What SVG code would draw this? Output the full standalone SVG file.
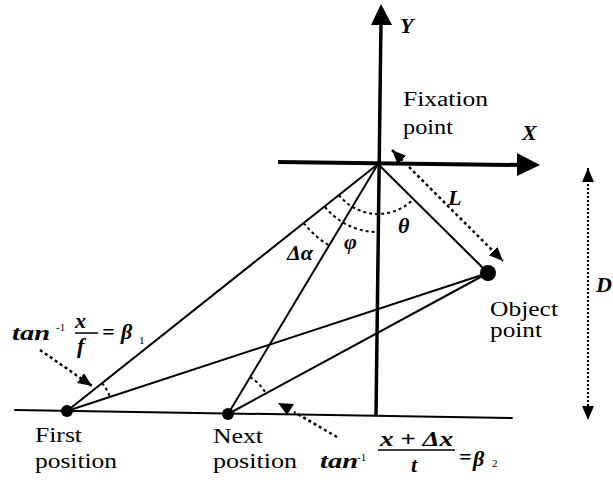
<svg xmlns="http://www.w3.org/2000/svg" width="613" height="485" viewBox="0 0 613 485">
<defs>
<marker id="ah" markerUnits="userSpaceOnUse" markerWidth="16" markerHeight="14" refX="14" refY="6" orient="auto-start-reverse">
<path d="M0,0 L14,6 L0,12 z" fill="#000"/>
</marker>
<style>
.lbl{font-size:20px;fill:#000}
.m{font-size:22px;font-style:italic;font-weight:bold;fill:#000}
.s{font-size:11px;fill:#000}
.ln{stroke:#000;stroke-width:2;fill:none;stroke-linecap:round}
.dash{stroke:#000;stroke-width:2;fill:none;stroke-dasharray:3 3}
.dot{stroke:#000;stroke-width:2.5;fill:none;stroke-dasharray:3 3}
.fine{stroke:#000;stroke-width:2;fill:none;stroke-dasharray:2 2}
</style>
</defs>
<rect width="613" height="485" fill="#fff"/>
<g font-family="Liberation Serif, DejaVu Serif, serif">
<g id="axes">
<line x1="381" y1="20" x2="376" y2="416" stroke="#000" stroke-width="3.5"/>
<polygon points="381,4 392,25 371,25" fill="#000"/>
<line x1="278" y1="162" x2="520" y2="165" stroke="#000" stroke-width="4"/>
<polygon points="540,165 517,153 517,176" fill="#000"/>
<text class="m" x="400" y="33">Y</text>
<text class="m" x="522" y="140">X</text>
</g>

<g id="ground">
<line class="ln" x1="15" y1="410" x2="512" y2="418"/>
</g>

<g id="connectors">
<line class="ln" x1="378" y1="164" x2="67" y2="411"/>
<line class="ln" x1="378" y1="164" x2="228" y2="414"/>
<line class="ln" x1="378" y1="164" x2="488" y2="273"/>
<line class="ln" x1="488" y1="273" x2="67" y2="411"/>
<line class="ln" x1="488" y1="273" x2="228" y2="414"/>
<path class="dash" d="M338.9,195.1 A50,50 0 0 0 413.5,199.2"/>
<path class="dash" d="M325,207 A68,68 0 0 0 377.4,232"/>
<path class="dash" d="M303.7,223.1 A95,95 0 0 0 329.2,245.5"/>
<path class="dash" d="M102,383 A45,45 0 0 1 110,397"/>
<path class="dash" d="M250.1,377.1 A43,43 0 0 1 265.8,393.5"/>
<line class="dot" x1="392" y1="150" x2="503" y2="261" marker-start="url(#ah)" marker-end="url(#ah)"/>
<line class="fine" x1="588" y1="168" x2="588" y2="420" marker-start="url(#ah)" marker-end="url(#ah)"/>
<line class="dot" x1="40" y1="350" x2="92" y2="386" marker-end="url(#ah)"/>
<line class="dot" x1="337" y1="437" x2="294" y2="412"/>
<polygon points="278,403 294,404 287,415" fill="#000"/>
</g>

<g id="fixation-point">
<text class="lbl" x="403" y="106" textLength="85" lengthAdjust="spacingAndGlyphs">Fixation</text>
<text class="lbl" x="403" y="134" textLength="50" lengthAdjust="spacingAndGlyphs">point</text>
</g>

<g id="object-point">
<circle cx="488" cy="273" r="8" fill="#000"/>
<text class="lbl" x="490" y="316" textLength="68" lengthAdjust="spacingAndGlyphs">Object</text>
<text class="lbl" x="490" y="337" textLength="52" lengthAdjust="spacingAndGlyphs">point</text>
</g>

<g id="first-position">
<circle cx="67" cy="411" r="6" fill="#000"/>
<text class="lbl" x="35" y="442" textLength="47" lengthAdjust="spacingAndGlyphs">First</text>
<text class="lbl" x="35" y="468" textLength="82" lengthAdjust="spacingAndGlyphs">position</text>
</g>

<g id="next-position">
<circle cx="228" cy="414" r="6" fill="#000"/>
<text class="lbl" x="213" y="443" textLength="50" lengthAdjust="spacingAndGlyphs">Next</text>
<text class="lbl" x="213" y="468" textLength="84" lengthAdjust="spacingAndGlyphs">position</text>
</g>

<g id="angle-labels">
<text class="m" x="448" y="205">L</text>
<text class="m" x="398" y="233">θ</text>
<text class="m" x="344" y="249">φ</text>
<text class="m" x="287" y="260">Δα</text>
<text class="m" x="596" y="292">D</text>
</g>

<g id="beta1-label">
<text class="m" x="12" y="340" textLength="38" lengthAdjust="spacingAndGlyphs">tan</text>
<text class="s" x="56" y="331">-1</text>
<text class="m" x="75" y="328">x</text>
<line x1="75" y1="333" x2="98" y2="333" stroke="#000" stroke-width="1.5"/>
<text class="m" x="77" y="353">f</text>
<text class="m" x="102" y="339">=</text>
<text class="m" x="121" y="339">β</text>
<text class="s" x="139" y="344">1</text>
</g>

<g id="beta2-label">
<text class="m" x="320" y="468" textLength="38" lengthAdjust="spacingAndGlyphs">tan</text>
<text class="s" x="357" y="461">-1</text>
<text class="m" x="380" y="446" textLength="73" lengthAdjust="spacingAndGlyphs">x + Δx</text>
<line x1="378" y1="450" x2="455" y2="450" stroke="#000" stroke-width="1.5"/>
<text class="m" x="411" y="472">t</text>
<text class="m" x="459" y="464">=</text>
<text class="m" x="473" y="466">β</text>
<text class="s" x="492" y="467">2</text>
</g>
</g>
</svg>
